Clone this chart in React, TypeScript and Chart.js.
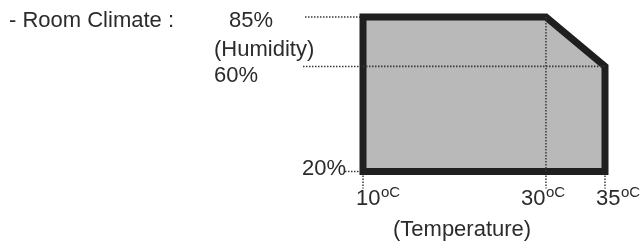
import React, { useEffect, useRef } from 'react';
import { Chart, registerables, LinearScale } from 'chart.js';

// ---- data ----
const tempTicks = [10, 30, 35];
const humTicks = [85, 60, 20];
const envTemp = [10, 10, 30, 35, 35, 10];
const envHum = [20, 85, 85, 60, 20, 20];
const titleText = '- Room Climate :';
const humTitle = '(Humidity)';
const tempTitle = '(Temperature)';
const tempUnit = 'oC';

// schematic (non-uniform) axis spacing of the drawing
const tempTickDecimals = [0, 0.756, 1];
const humTickDecimals = [1, 0.68, 0];

class PiecewiseScale extends LinearScale {
  static id = 'piecewise';
  static defaults = { ...(LinearScale as any).defaults };
  getPixelForValue(value: number) {
    const stops = (this.options as any).stops as [number, number][];
    if (!stops || value == null || isNaN(value)) return super.getPixelForValue(value);
    const s = [...stops].sort((a, b) => a[0] - b[0]);
    let i = 0;
    while (i < s.length - 2 && value > s[i + 1][0]) i++;
    const [v0, d0] = s[i];
    const [v1, d1] = s[i + 1];
    const dec = d0 + ((value - v0) / (v1 - v0)) * (d1 - d0);
    return this.getPixelForDecimal(dec);
  }
}
Chart.register(...registerables, PiecewiseScale as any);

const FONT = '"Liberation Sans", Arial, sans-serif';
const TEXT = '#2b2b2b';
const DOT = '#3a3a3a';

const labelsPlugin = {
  id: 'schematicLabels',
  afterDatasetsDraw(chart: any) {
    const { ctx } = chart;
    const xs = chart.scales.x;
    const ys = chart.scales.y;
    const x10 = xs.getPixelForValue(tempTicks[0]);
    const yBottom = ys.getPixelForValue(humTicks[2]);
    ctx.save();
    // leaders
    ctx.strokeStyle = DOT;
    ctx.lineWidth = 1.5;
    ctx.setLineDash([1.5, 1.5]);
    const leaderStart = [305, 303, 345];
    humTicks.forEach((h, i) => {
      const y = ys.getPixelForValue(h);
      ctx.beginPath();
      ctx.moveTo(leaderStart[i], y);
      ctx.lineTo(x10 - 3, y);
      ctx.stroke();
    });
    tempTicks.forEach((t) => {
      const x = xs.getPixelForValue(t);
      ctx.beginPath();
      ctx.moveTo(x, yBottom + 4);
      ctx.lineTo(x, yBottom + 17);
      ctx.stroke();
    });
    ctx.setLineDash([]);
    // texts
    ctx.fillStyle = TEXT;
    ctx.textAlign = 'left';
    ctx.textBaseline = 'alphabetic';
    ctx.font = `22px ${FONT}`;
    ctx.fillText(titleText, 9, 27);
    ctx.fillText(humTitle, 214, 55.5);
    const yLabelX = [229, 214, 302];
    const yLabelDy = [9.5, 16, 3];
    humTicks.forEach((h, i) => {
      ctx.fillText(`${h}%`, yLabelX[i], ys.getPixelForValue(h) + yLabelDy[i]);
    });
    const xLabelDx = [-7, -25, -9];
    tempTicks.forEach((t, i) => {
      const x = xs.getPixelForValue(t) + xLabelDx[i];
      ctx.font = `22px ${FONT}`;
      const s = String(t);
      ctx.fillText(s, x, 205);
      const w = ctx.measureText(s).width;
      ctx.font = `15px ${FONT}`;
      ctx.fillText(tempUnit, x + w + 0.5, 196.5);
    });
    ctx.font = `22px ${FONT}`;
    ctx.fillText(tempTitle, 393, 236);
    ctx.restore();
  },
};

export default function App() {
  const ref = useRef<HTMLCanvasElement>(null);
  useEffect(() => {
    document.body.style.margin = '0';
    const envelope = envTemp.map((x, i) => ({ x, y: envHum[i] }));
    const humLine = [
      { x: tempTicks[0], y: humTicks[1] },
      { x: tempTicks[2], y: humTicks[1] },
    ];
    const tempLine = [
      { x: tempTicks[1], y: humTicks[2] },
      { x: tempTicks[1], y: humTicks[0] },
    ];
    const chart = new Chart(ref.current!, {
      type: 'line',
      data: {
        datasets: [
          {
            data: humLine,
            borderColor: DOT,
            borderWidth: 1.8,
            borderDash: [1.5, 1.5],
            pointRadius: 0,
            fill: false,
            order: 0,
          },
          {
            data: tempLine,
            borderColor: DOT,
            borderWidth: 1.5,
            borderDash: [1.5, 1.5],
            pointRadius: 0,
            fill: false,
            order: 0,
          },
          {
            data: envelope,
            borderColor: '#1f1f1f',
            backgroundColor: '#b9b9b9',
            borderWidth: 7,
            borderJoinStyle: 'miter',
            borderCapStyle: 'square',
            pointRadius: 0,
            fill: 'shape',
            tension: 0,
            order: 2,
          },
        ] as any,
      },
      options: {
        responsive: false,
        animation: false,
        devicePixelRatio: 1,
        events: [],
        layout: { padding: { left: 363, right: 36, top: 17, bottom: 71.5 } },
        plugins: { legend: { display: false }, tooltip: { enabled: false } },
        scales: {
          x: {
            type: 'piecewise' as any,
            min: 10,
            max: 35,
            display: false,
            stops: tempTicks.map((t, i) => [t, tempTickDecimals[i]]),
          } as any,
          y: {
            type: 'piecewise' as any,
            min: 20,
            max: 85,
            display: false,
            stops: humTicks.map((h, i) => [h, humTickDecimals[i]]),
          } as any,
        },
        datasets: { line: { clip: false } } as any,
      },
      plugins: [labelsPlugin],
    });
    return () => chart.destroy();
  }, []);
  return (
    <div style={{ width: 641, height: 243, background: '#fff' }}>
      <canvas ref={ref} width={641} height={243} />
    </div>
  );
}
